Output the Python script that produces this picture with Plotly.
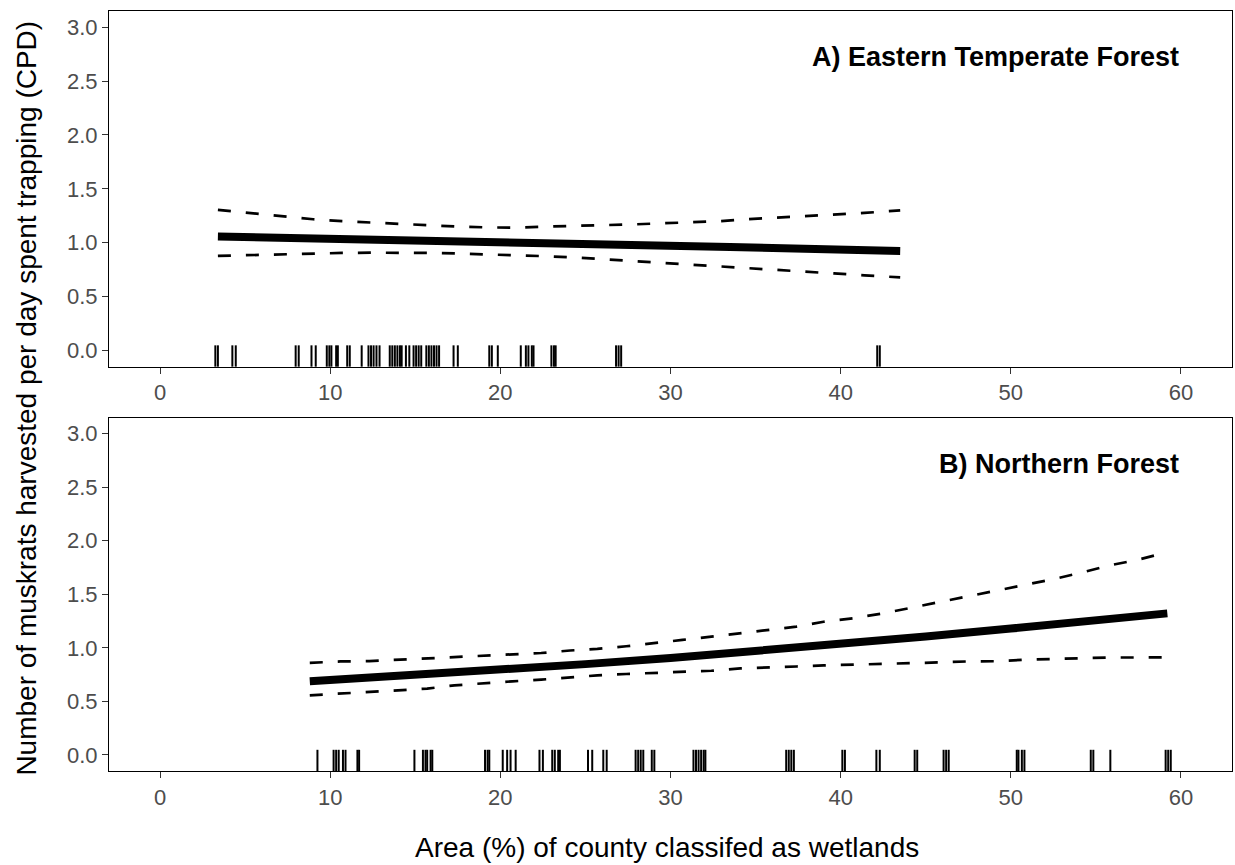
import plotly.graph_objects as go

# ---------------- data ----------------
x_ticks = [0, 10, 20, 30, 40, 50, 60]
y_ticks = [0.0, 0.5, 1.0, 1.5, 2.0, 2.5, 3.0]

title_a = "A) Eastern Temperate Forest"
title_b = "B) Northern Forest"
x_title = "Area (%) of county classifed as wetlands"
y_title = "Number of muskrats harvested per day spent trapping (CPD)"

# Panel A: fitted curve and confidence band
a_mid_x = [3.4, 13.0, 23.5, 33.5, 43.5]
a_mid = [1.057, 1.030, 0.994, 0.960, 0.923]
a_band_x = [3.4, 5.6, 7.2, 9.0, 10.7, 12.4, 14.1, 15.9, 17.5, 19.3, 21.0, 22.6,
            24.4, 26.0, 27.8, 29.5, 31.1, 32.9, 34.5, 36.3, 38.0, 39.6, 41.4, 43.5]
a_upper = [1.305, 1.27, 1.24, 1.218, 1.20, 1.187, 1.17, 1.156, 1.15, 1.142, 1.14, 1.15,
           1.156, 1.16, 1.17, 1.18, 1.19, 1.20, 1.218, 1.233, 1.25, 1.265, 1.277, 1.30]
a_lower = [0.878, 0.888, 0.895, 0.90, 0.905, 0.908, 0.908, 0.905, 0.90, 0.893, 0.885, 0.875,
           0.863, 0.848, 0.832, 0.815, 0.80, 0.782, 0.765, 0.748, 0.732, 0.715, 0.698, 0.678]

# Panel A rug (observed % wetland per county)
a_rug = [3.25, 3.4, 4.25, 4.45, 7.97, 8.15, 8.9, 9.15, 9.8, 9.95, 10.07, 10.35, 10.45,
         11.0, 11.15, 11.85, 12.25, 12.4, 12.55, 12.72, 12.9, 13.5, 13.65, 13.8, 13.95,
         14.1, 14.2, 14.45, 14.65, 14.9, 15.05, 15.2, 15.35, 15.65, 15.8, 15.95, 16.1,
         16.25, 16.4, 17.25, 17.5, 19.35, 19.5, 19.85, 21.2, 21.5, 21.65, 21.85, 21.95,
         23.0, 23.15, 23.25, 26.8, 26.95, 27.1, 42.15, 42.3]

# Panel B: fitted curve and confidence band
b_mid_x = [8.8, 15.0, 20.0, 25.0, 30.0, 35.0, 40.0, 45.0, 50.0, 55.0, 59.2]
b_mid = [0.688, 0.745, 0.795, 0.848, 0.905, 0.968, 1.035, 1.105, 1.18, 1.26, 1.322]
b_band_x = [8.8, 10.6, 12.3, 14.0, 15.7, 17.3, 19.0, 20.7, 22.4, 24.1, 25.7, 27.4, 29.1,
            30.7, 32.4, 34.1, 35.7, 37.4, 39.0, 40.7, 42.5, 44.0, 45.8, 47.4, 49.1, 50.8,
            52.4, 54.1, 55.8, 57.4, 59.2]
b_upper = [0.86, 0.873, 0.876, 0.889, 0.895, 0.91, 0.926, 0.94, 0.952, 0.975, 0.99, 1.015,
           1.043, 1.074, 1.105, 1.137, 1.167, 1.198, 1.244, 1.276, 1.322, 1.369, 1.43,
           1.476, 1.529, 1.585, 1.638, 1.70, 1.77, 1.82, 1.894]
b_lower = [0.557, 0.573, 0.589, 0.61, 0.619, 0.65, 0.672, 0.687, 0.703, 0.724, 0.743, 0.756,
           0.765, 0.78, 0.786, 0.808, 0.82, 0.826, 0.836, 0.842, 0.851, 0.858, 0.864, 0.873,
           0.875, 0.889, 0.898, 0.904, 0.91, 0.91, 0.912]

# Panel B rug
b_rug = [9.25, 10.2, 10.35, 10.5, 10.75, 10.9, 11.6, 11.7, 14.95, 15.45, 15.6, 15.7, 15.9,
         16.0, 19.1, 19.25, 19.35, 20.14, 20.4, 20.6, 20.9, 22.3, 22.5, 23.05, 23.2, 23.4,
         23.5, 25.15, 25.4, 26.05, 26.25, 27.95, 28.1, 28.25, 28.4, 28.9, 29.05, 31.35,
         31.5, 31.65, 31.8, 31.95, 32.05, 36.8, 36.95, 37.1, 37.25, 40.1, 40.25, 42.1,
         42.3, 44.35, 44.5, 46.05, 46.2, 46.35, 50.35, 50.45, 50.65, 50.8, 54.7, 54.85,
         55.85, 59.1, 59.25, 59.4]

# ---------------- figure ----------------
FONT = "Liberation Sans, Arial, sans-serif"
fig = go.Figure()

def add_panel(xa, ya, mid_x, mid, band_x, upper, lower):
    dash_style = dict(color="black", width=2.7, dash="13px,15px")
    fig.add_trace(go.Scatter(x=band_x, y=upper, mode="lines", line=dash_style,
                             xaxis=xa, yaxis=ya, showlegend=False, hoverinfo="skip"))
    fig.add_trace(go.Scatter(x=band_x, y=lower, mode="lines", line=dash_style,
                             xaxis=xa, yaxis=ya, showlegend=False, hoverinfo="skip"))
    fig.add_trace(go.Scatter(x=mid_x, y=mid, mode="lines",
                             line=dict(color="black", width=8),
                             xaxis=xa, yaxis=ya, showlegend=False))

add_panel("x", "y", a_mid_x, a_mid, a_band_x, a_upper, a_lower)
add_panel("x2", "y2", b_mid_x, b_mid, b_band_x, b_upper, b_lower)

shapes = []
for v in a_rug:
    shapes.append(dict(type="line", xref="x", yref="y domain", x0=v, x1=v, y0=0, y1=0.06,
                       line=dict(color="black", width=2)))
for v in b_rug:
    shapes.append(dict(type="line", xref="x2", yref="y2 domain", x0=v, x1=v, y0=0, y1=0.06,
                       line=dict(color="black", width=2)))

axis_common = dict(showline=True, mirror=True, linecolor="black", linewidth=1.2,
                   showgrid=False, zeroline=False, ticks="outside", ticklen=6,
                   tickwidth=1.2, tickcolor="#333333",
                   tickfont=dict(family=FONT, size=22, color="#4D4D4D"))

fig.update_layout(
    width=1235, height=865,
    margin=dict(l=109, r=3, t=11, b=94),
    paper_bgcolor="white", plot_bgcolor="white",
    font=dict(family=FONT, color="black"),
    xaxis=dict(domain=[0, 1], anchor="y", range=[-3, 63], tickvals=x_ticks, **axis_common),
    yaxis=dict(domain=[0.532, 1], anchor="x", range=[-0.15, 3.15], tickvals=y_ticks,
               tickformat=".1f", **axis_common),
    xaxis2=dict(domain=[0, 1], anchor="y2", range=[-3, 63], tickvals=x_ticks, **axis_common),
    yaxis2=dict(domain=[0, 0.465], anchor="x2", range=[-0.15, 3.15], tickvals=y_ticks,
                tickformat=".1f", **axis_common),
    shapes=shapes,
    annotations=[
        dict(text="<b>" + title_a + "</b>", xref="x", yref="y", x=60, y=2.72,
             xanchor="right", yanchor="middle", showarrow=False,
             font=dict(family=FONT, size=27, color="black")),
        dict(text="<b>" + title_b + "</b>", xref="x2", yref="y2", x=60, y=2.72,
             xanchor="right", yanchor="middle", showarrow=False,
             font=dict(family=FONT, size=27, color="black")),
        dict(text=x_title, xref="paper", yref="paper", x=0.497, y=-0.101,
             xanchor="center", yanchor="middle", showarrow=False,
             font=dict(family=FONT, size=28, color="black")),
        dict(text=y_title, xref="paper", yref="paper", x=-0.073, y=0.49,
             xanchor="center", yanchor="middle", textangle=-90, showarrow=False,
             font=dict(family=FONT, size=28, color="black")),
    ],
)

fig.write_html("out.html")
